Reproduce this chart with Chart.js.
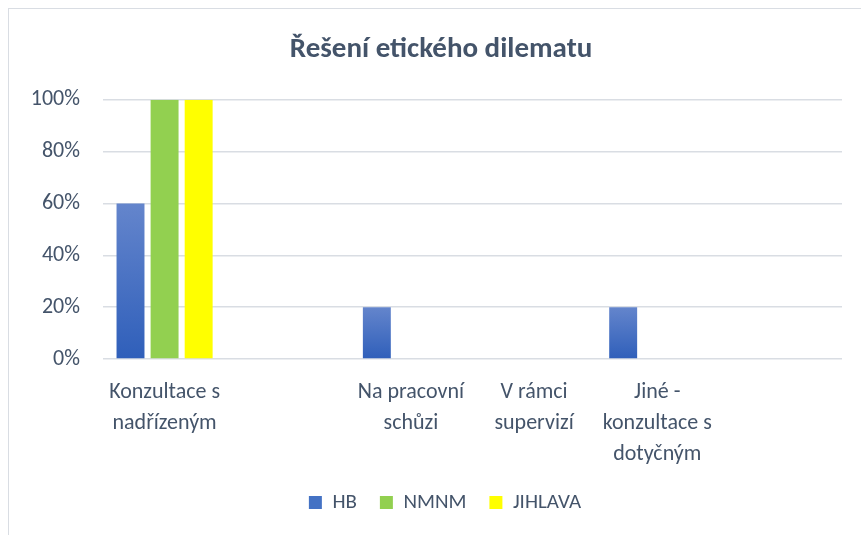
<!DOCTYPE html>
<html>
<head>
<meta charset="utf-8">
<script src="https://cdn.jsdelivr.net/npm/chart.js@4.4.1/dist/chart.umd.min.js"></script>
<style>
  body { margin: 0; background: #fff; overflow: hidden; }
  .frame { position: absolute; left: 8px; top: 8px; width: 900px; height: 600px; border: 1px solid #d9dde3; }
  #chart { position: absolute; left: 0; top: 0; }
</style>
</head>
<body>
<div class="frame"></div>
<canvas id="chart" width="861" height="535"></canvas>
<script>
const categories = [
  ['Konzultace s', 'nadřízeným'],
  '',
  ['Na pracovní', 'schůzi'],
  ['V rámci', 'supervizí'],
  ['Jiné -', 'konzultace s', 'dotyčným'],
  ''
];
const hbValues = [60, 0, 20, 0, 20, 0];
const nmnmValues = [100, 0, 0, 0, 0, 0];
const jihlavaValues = [100, 0, 0, 0, 0, 0];
const yTicks = [0, 20, 40, 60, 80, 100];

const textColor = '#44546a';
const fontFamily = 'Carlito, Calibri, Lato, sans-serif';

// HB bars use a vertical gradient like the Excel original
function hbFill(context) {
  const chart = context.chart;
  const y = chart.scales.y;
  if (!y || context.parsed === undefined) return '#4472c4';
  const top = y.getPixelForValue(context.parsed.y);
  const bottom = y.getPixelForValue(0);
  if (!isFinite(top) || top === bottom) return '#4472c4';
  const g = chart.ctx.createLinearGradient(0, top, 0, bottom);
  g.addColorStop(0, '#6485cc');
  g.addColorStop(1, '#2f5fba');
  return g;
}

// title and legend sit a bit right of the plot centre in the original
const shiftBlocks = {
  id: 'shiftBlocks',
  afterLayout: function (chart) {
    chart.titleBlock.left += 16;
    chart.titleBlock.right += 16;
    chart.legend.left += 20;
    chart.legend.right += 20;
  }
};

const ctx = document.getElementById('chart').getContext('2d');
new Chart(ctx, {
  type: 'bar',
  data: {
    labels: categories,
    datasets: [
      { label: 'HB', data: hbValues, backgroundColor: hbFill },
      { label: 'NMNM', data: nmnmValues, backgroundColor: '#92d050' },
      { label: 'JIHLAVA', data: jihlavaValues, backgroundColor: '#ffff00' }
    ]
  },
  plugins: [shiftBlocks],
  options: {
    responsive: false,
    animation: false,
    categoryPercentage: 0.83,
    barPercentage: 0.82,
    layout: { padding: { left: 8, right: 19, top: 8, bottom: 12 } },
    scales: {
      x: {
        grid: { display: false },
        border: { display: false },
        ticks: {
          color: textColor,
          font: { family: fontFamily, size: 22, lineHeight: 1.4 },
          padding: 10,
          maxRotation: 0,
          autoSkip: false
        },
        afterFit: function (scale) { scale.height = 110; }
      },
      y: {
        min: 0,
        max: 100,
        afterBuildTicks: function (scale) {
          scale.ticks = yTicks.map(function (v) { return { value: v }; });
        },
        grid: { color: '#d9dde3', lineWidth: 1.5, drawTicks: false },
        border: { display: false },
        ticks: {
          color: textColor,
          font: { family: fontFamily, size: 22 },
          padding: 23,
          callback: function (v) { return v + '%'; }
        },
        afterFit: function (scale) { scale.width = 95; }
      }
    },
    plugins: {
      title: {
        display: true,
        text: 'Řešení etického dilematu',
        color: textColor,
        font: { family: fontFamily, size: 29, weight: 'bold', lineHeight: 1.2 },
        padding: { top: 24, bottom: 33 }
      },
      legend: {
        position: 'bottom',
        labels: {
          color: textColor,
          font: { family: fontFamily, size: 21 },
          boxWidth: 13,
          boxHeight: 13,
          padding: 23,
          generateLabels: function (chart) {
            const items = Chart.defaults.plugins.legend.labels.generateLabels(chart);
            items.forEach(function (it) {
              if (it.text === 'HB') it.fillStyle = '#4472c4';
              it.lineWidth = 0;
            });
            return items;
          }
        }
      },
      tooltip: { enabled: false }
    }
  }
});
</script>
</body>
</html>
